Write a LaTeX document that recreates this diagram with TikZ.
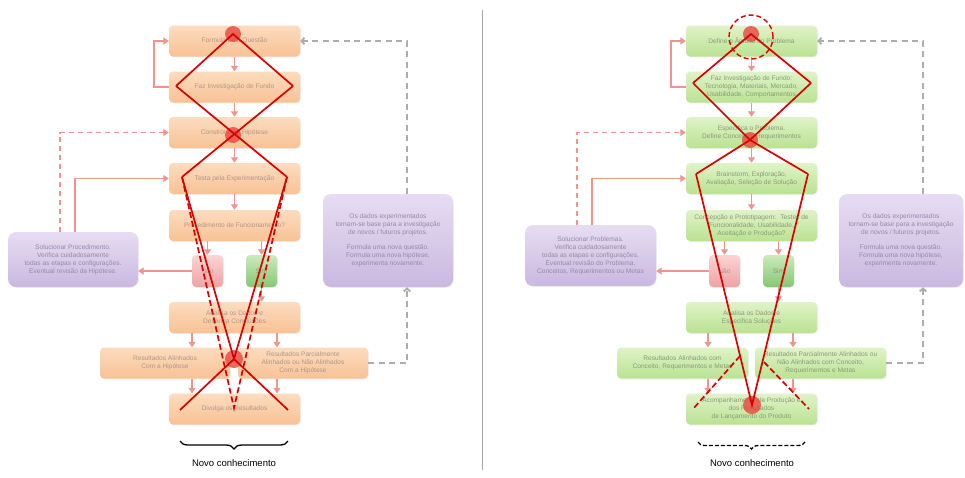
\documentclass[tikz,border=0pt]{standalone}
\usepackage{fontspec}
\setmainfont{Liberation Sans}
\usetikzlibrary{arrows.meta,decorations.pathreplacing,shadows}
\definecolor{orgA}{HTML}{FCDCBF}
\definecolor{orgB}{HTML}{F8C295}
\definecolor{grnA}{HTML}{E0F3C8}
\definecolor{grnB}{HTML}{BAE292}
\definecolor{purA}{HTML}{E6DDF2}
\definecolor{purB}{HTML}{CAB8E0}
\definecolor{nA}{HTML}{FAD4D4}
\definecolor{nB}{HTML}{EFA2A2}
\definecolor{sA}{HTML}{CDEABC}
\definecolor{sB}{HTML}{86C674}
\definecolor{conn}{HTML}{EC968C}
\definecolor{grayd}{HTML}{ADADAD}
\definecolor{redmark}{HTML}{D60000}
\definecolor{reddot}{HTML}{E8463E}
\definecolor{otext}{HTML}{B0978A}
\definecolor{gtext}{HTML}{8A9A7A}
\definecolor{ptext}{HTML}{948AA6}
\tikzset{
  basebox/.style={rounded corners=4pt, minimum width=131pt, minimum height=31pt, inner sep=1pt, align=center,
    font=\fontsize{6.6}{8}\selectfont, drop shadow={opacity=0.12, shadow xshift=0.8pt, shadow yshift=-0.8pt}},
  obox/.style={basebox, top color=orgA, bottom color=orgB, text=otext},
  gbox/.style={basebox, top color=grnA, bottom color=grnB, text=gtext},
  pbox/.style={basebox, top color=purA, bottom color=purB, text=ptext, rounded corners=8pt},
  nbox/.style={basebox, minimum width=31pt, minimum height=32pt, top color=nA, bottom color=nB, text=otext},
  sbox/.style={basebox, minimum width=31pt, minimum height=32pt, top color=sA, bottom color=sB, text=gtext},
  arr/.style={draw=conn, line width=1.8pt, -{Triangle[length=5.5pt,width=7pt]}},
  darr/.style={arr, dash pattern=on 5pt off 4pt},
  garr/.style={draw=grayd, line width=1.9pt, dash pattern=on 6pt off 4.5pt, -{Straight Barb[length=3pt,width=6.5pt]}},
  mk/.style={draw=redmark, line width=1.7pt},
  dmk/.style={mk, dash pattern=on 6pt off 3pt},
  dotc/.style={fill=reddot, opacity=0.8},
  caption/.style={font=\fontsize{9.5}{11}\selectfont, text=black}
}
\begin{document}
\begin{tikzpicture}[x=1pt,y=-1pt]
\useasboundingbox (0,0) rectangle (965,477);
\fill[white] (0,0) rectangle (965,477);

% ================= LEFT PANEL =================
\node[obox] (L1) at (234.5,41) {Formula uma Questão};
\node[obox] (L2) at (234.5,87) {Faz Investigação de Fundo};
\node[obox] (L3) at (234.5,132.5) {Constrói uma Hipótese};
\node[obox] (L4) at (234.5,178.5) {Testa pela Experimentação};
\node[obox] (L5) at (234.5,225.5) {Procedimento de Funcionamento?};
\node[nbox] (LN) at (207.5,271) {Não};
\node[sbox] (LS) at (261.5,271) {Sim};
\node[obox] (L6) at (234.5,317.5) {Analisa os Dados e\\Desenha Conclusões};
\node[obox, minimum width=130pt] (L7a) at (165,363) {Resultados Alinhados\\Com a Hipótese};
\node[obox, minimum width=130pt] (L7b) at (303,363) {Resultados Parcialmente\\Alinhados ou Não Alinhados\\Com a Hipótese};
\node[obox] (L8) at (234.5,409) {Divulga os Resultados};
\node[pbox, minimum width=130pt, minimum height=55pt] (LP) at (73,259.5) {Solucionar Procedimento.\\Verifica cuidadosamente\\todas as etapas e configurações.\\Eventual revisão da Hipótese.};
\node[pbox, minimum width=130pt, minimum height=93pt] (LQ) at (388,240.5) {Os dados experimentados\\tornam-se base para a investigação\\de novos / futuros projetos.\\[7pt]Formula uma nova questão.\\Formula uma nova hipótese,\\experimenta novamente.};

\draw[arr] (L1.south) -- (L2.north);
\draw[arr] (L2.south) -- (L3.north);
\draw[arr] (L3.south) -- (L4.north);
\draw[arr] (L4.south) -- (L5.north);
\draw[arr] (L5.south -| LN.north) -- (LN.north);
\draw[arr] (L5.south -| LS.north) -- (LS.north);
\draw[arr] (LS.south) -- (LS.south |- L6.north);
\coordinate (la) at ([xshift=-42.5pt]L6.south);
\coordinate (lb) at ([xshift=42.5pt]L6.south);
\draw[arr] (la) -- (la |- L7a.north);
\draw[arr] (lb) -- (lb |- L7b.north);
\coordinate (lc) at ([xshift=-42.5pt]L8.north);
\coordinate (ld) at ([xshift=42.5pt]L8.north);
\draw[arr] (lc |- L7a.south) -- (lc);
\draw[arr] (ld |- L7b.south) -- (ld);
\draw[arr] (L2.west) -- ++(-15,0) |- (L1.west);
\draw[arr] (LN.west) -- (LN.west -| LP.east);
\coordinate (lps) at ([xshift=2pt]LP.north);
\coordinate (lpd) at ([xshift=-13pt]LP.north);
\draw[arr] (lps) |- (L4.west);
\draw[darr] (lpd) |- (L3.west);
\coordinate (lqt) at ([xshift=19pt]LQ.north);
\coordinate (lqb) at ([xshift=19pt]LQ.south);
\draw[garr] (lqt) |- (L1.east);
\draw[garr] (L7b.east) -| (lqb);

% red marks left
\fill[dotc] (233,34) circle[radius=8pt];
\fill[dotc] (233,135) circle[radius=8pt];
\fill[dotc] (234,359) circle[radius=9pt];
\draw[mk] (176,86) -- (233,34) -- (293,86);
\draw[mk] (176,86) -- (287,177);
\draw[mk] (293,86) -- (182,177);
\draw[mk] (182,177) -- (234,359) -- (287,177);
\draw[dmk] (182,177) -- (234,408) -- (287,177);
\draw[mk] (180,410) -- (234,359) -- (288,410);

\draw[decorate, decoration={brace, amplitude=8pt, mirror}, line width=1.3pt] (180,441) -- (288,441);
\node[caption] (LC) at (234,463) {Novo conhecimento};

% divider
\draw[gray!70, line width=0.8pt] (482,10) -- (482,470);

% ================= RIGHT PANEL =================
\node[gbox] (R1) at (751.5,41) {Define o Âmbito do Problema};
\node[gbox] (R2) at (751.5,87) {Faz Investigação de Fundo:\\Tecnologia, Materiais, Mercado,\\Usabilidade, Comportamentos};
\node[gbox] (R3) at (751.5,132.5) {Especifica o Problema.\\Define Conceitos, Requerimentos};
\node[gbox] (R4) at (751.5,178.5) {Brainstorm, Exploração,\\Avaliação, Seleção de Solução};
\node[gbox] (R5) at (751.5,225.5) {Concepção e Prototipagem:~ Testes de\\Funcionalidade, Usabilidade,\\Aceitação e Produção?};
\node[nbox] (RN) at (724.5,271) {Não};
\node[sbox] (RS) at (778.5,271) {Sim};
\node[gbox] (R6) at (751.5,317.5) {Analisa os Dados e\\Especifica Soluções};
\node[gbox] (R7a) at (682.5,363) {Resultados Alinhados com\\Conceito, Requerimentos e Metas};
\node[gbox] (R7b) at (820.5,363) {Resultados Parcialmente Alinhados ou\\Não Alinhados com Conceito,\\Requerimentos e Metas};
\node[gbox] (R8) at (751.5,409) {Acompanhamento da Produção e\\dos Resultados\\de Lançamento do Produto};
\node[pbox, minimum width=131pt, minimum height=61pt] (RP) at (590.5,255.5) {Solucionar Problemas.\\Verifica cuidadosamente\\todas as etapas e configurações.\\Eventual revisão do Problema,\\Conceitos, Requerimentos ou Metas};
\node[pbox, minimum width=124pt, minimum height=93pt] (RQ) at (901,240.5) {Os dados experimentados\\tornam-se base para a investigação\\de novos / futuros projetos.\\[7pt]Formula uma nova questão.\\Formula uma nova hipótese,\\experimenta novamente.};

\draw[arr] (R1.south) -- (R2.north);
\draw[arr] (R2.south) -- (R3.north);
\draw[arr] (R3.south) -- (R4.north);
\draw[arr] (R4.south) -- (R5.north);
\draw[arr] (R5.south -| RN.north) -- (RN.north);
\draw[arr] (R5.south -| RS.north) -- (RS.north);
\draw[arr] (RS.south) -- (RS.south |- R6.north);
\coordinate (ra) at ([xshift=-43.5pt]R6.south);
\coordinate (rb) at ([xshift=41.5pt]R6.south);
\draw[arr] (ra) -- (ra |- R7a.north);
\draw[arr] (rb) -- (rb |- R7b.north);
\coordinate (rc) at ([xshift=-43.5pt]R8.north);
\coordinate (rd) at ([xshift=41.5pt]R8.north);
\draw[arr] (rc |- R7a.south) -- (rc);
\draw[arr] (rd |- R7b.south) -- (rd);
\draw[arr] (R2.west) -- ++(-15,0) |- (R1.west);
\draw[arr] (RN.west) -- (RN.west -| RP.east);
\coordinate (rps) at ([xshift=1.5pt]RP.north);
\coordinate (rpd) at ([xshift=-13.5pt]RP.north);
\draw[arr] (rps) |- (R4.west);
\draw[darr] (rpd) |- (R3.west);
\coordinate (rqt) at ([xshift=22pt]RQ.north);
\coordinate (rqb) at ([xshift=22pt]RQ.south);
\draw[garr] (rqt) |- (R1.east);
\draw[garr] (R7b.east) -| (rqb);

% red marks right
\draw[redmark, line width=1.4pt, dash pattern=on 5pt off 3pt] (751,37) circle[radius=22pt];
\fill[dotc] (751,34) circle[radius=8pt];
\fill[dotc] (750,140) circle[radius=8pt];
\fill[dotc] (752,405) circle[radius=9pt];
\draw[mk] (693,83) -- (751,34) -- (811,83);
\draw[mk] (693,83) -- (750,140) -- (808,174);
\draw[mk] (811,83) -- (750,140) -- (696,174);
\draw[mk] (696,174) -- (752,405) -- (808,174);
\draw[dmk] (740,356) -- (693,409);
\draw[dmk] (764,362) -- (809,409);

\draw[decorate, decoration={brace, amplitude=7pt, mirror}, line width=1.3pt, dash pattern=on 4pt off 2pt] (698,442) -- (805,442);
\node[caption] (RC) at (752,463) {Novo conhecimento};
\end{tikzpicture}
\end{document}
